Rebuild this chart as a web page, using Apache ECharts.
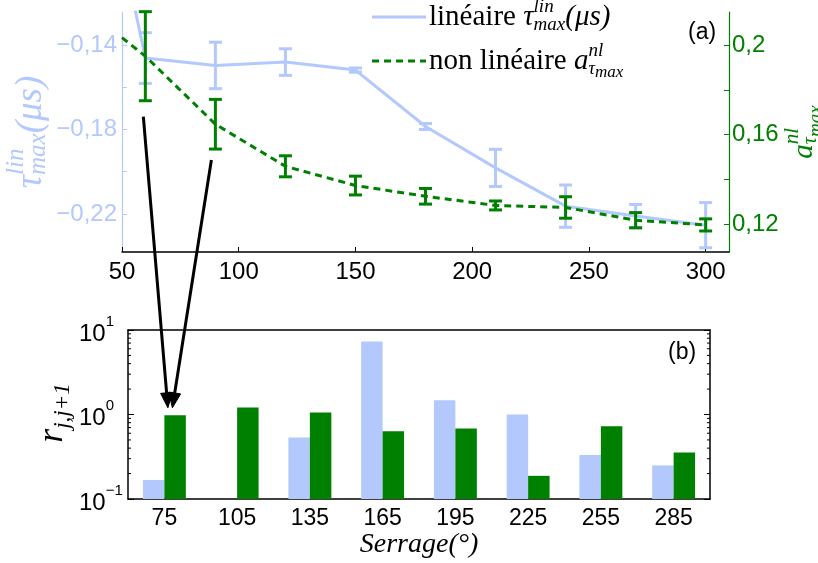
<!DOCTYPE html>
<html><head><meta charset="utf-8">
<script src="https://cdn.jsdelivr.net/npm/echarts@6/dist/echarts.min.js"></script>
<style>html,body{margin:0;padding:0;background:#fff}#c{width:818px;height:563px}</style>
</head><body><div id="c"></div>
<script>
// ---------- data ----------
const serrage = [60, 90, 120, 150, 180, 210, 240, 270, 300];
const linLead = [50, -0.094];           // segment entering the frame from the left
const linValues = [-0.1462, -0.1497, -0.1481, -0.1519, -0.1786, -0.1982, -0.2163, -0.2210, -0.2253];
const linErr = [0.0120, 0.0110, 0.0063, 0.0010, 0.0014, 0.0088, 0.0100, 0.0055, 0.0107];
const nlLead = [50, 0.2033];
const nlValues = [0.1950, 0.1646, 0.1458, 0.1372, 0.1324, 0.1283, 0.1274, 0.1217, 0.1196];
const nlErr = [0.0199, 0.0111, 0.0047, 0.0042, 0.0035, 0.0020, 0.0048, 0.0034, 0.0027];
const rCategories = ['75', '105', '135', '165', '195', '225', '255', '285'];
const rLin = [0.168, null, 0.535, 7.33, 1.47, 1.0, 0.331, 0.25];
const rNl = [0.98, 1.21, 1.056, 0.635, 0.684, 0.188, 0.727, 0.356];
const topXTicks = [50, 100, 150, 200, 250, 300];
const linTickLabels = [-0.22, -0.18, -0.14];
const linTicks = [-0.22, -0.20, -0.18, -0.16, -0.14];
const nlTickLabels = [0.12, 0.16, 0.2];
const nlTicks = [0.12, 0.14, 0.16, 0.18, 0.2];
const logMinor = [0.2, 0.3, 0.4, 0.5, 0.6, 0.7, 0.8, 0.9, 2, 3, 4, 5, 6, 7, 8, 9];

// ---------- styles ----------
const BLUE = '#b3c8fc';
const GREEN = '#008000';
const SANS = '"Liberation Sans", Arial, sans-serif';
const SERIF = '"Liberation Serif", "Times New Roman", serif';

const fmtComma = v => (v < 0 ? '\u2212' : '') + String(Math.abs(+v.toFixed(4))).replace('.', ',');

function errRender(color, capW, lw) {
  return function (params, api) {
    const x = api.value(0), v = api.value(1), e = api.value(2);
    const lo = api.coord([x, v - e]), hi = api.coord([x, v + e]);
    const hw = capW / 2;
    const style = { stroke: color, lineWidth: lw };
    return { type: 'group', children: [
      { type: 'line', shape: { x1: lo[0], y1: lo[1], x2: hi[0], y2: hi[1] }, style },
      { type: 'line', shape: { x1: lo[0] - hw, y1: lo[1], x2: lo[0] + hw, y2: lo[1] }, style },
      { type: 'line', shape: { x1: hi[0] - hw, y1: hi[1], x2: hi[0] + hw, y2: hi[1] }, style }
    ]};
  };
}

const chart = echarts.init(document.getElementById('c'), null, { renderer: 'canvas' });

const option = {
  animation: false,
  backgroundColor: '#fff',
  grid: [
    { left: 122, top: 12, width: 607, height: 240 },
    { left: 128, top: 330, width: 582, height: 169 }
  ],
  xAxis: [
    { type: 'value', gridIndex: 0, min: 50, max: 310,
      axisLine: { onZero: false, lineStyle: { color: '#000', width: 1.5 } },
      axisTick: { inside: true, length: 5, customValues: topXTicks, lineStyle: { color: '#000' } },
      axisLabel: { customValues: topXTicks, color: '#000', fontFamily: SANS, fontSize: 24, margin: 8 },
      splitLine: { show: false } },
    { type: 'category', gridIndex: 1, data: rCategories, position: 'bottom',
      axisLine: { onZero: false, lineStyle: { color: '#000', width: 1.5 } },
      axisTick: { inside: true, alignWithLabel: true, length: 5, lineStyle: { color: '#000' } },
      axisLabel: { color: '#000', fontFamily: SANS, fontSize: 23, margin: 8 },
      name: 'Serrage(°)', nameLocation: 'middle', nameGap: 30,
      nameTextStyle: { fontFamily: SERIF, fontStyle: 'italic', fontSize: 28, color: '#000' } },
    { type: 'category', gridIndex: 1, data: rCategories, position: 'top',
      axisLine: { onZero: false, lineStyle: { color: '#000', width: 1.5 } },
      axisTick: { inside: true, alignWithLabel: true, length: 5, lineStyle: { color: '#000' } },
      axisLabel: { show: false } }
  ],
  yAxis: [
    { type: 'value', gridIndex: 0, position: 'left', min: -0.2380, max: -0.1244,
      axisLine: { show: true, onZero: false, lineStyle: { color: BLUE, width: 1.2 } },
      axisTick: { show: true, inside: true, length: 5, customValues: linTicks, lineStyle: { color: BLUE } },
      axisLabel: { customValues: linTickLabels, formatter: fmtComma, color: BLUE, fontFamily: SANS, fontSize: 24, margin: 5 },
      splitLine: { show: false } },
    { type: 'value', gridIndex: 0, position: 'right', min: 0.1075, max: 0.21475,
      axisLine: { show: true, onZero: false, lineStyle: { color: GREEN, width: 1.2 } },
      axisTick: { show: true, inside: true, length: 5, customValues: nlTicks, lineStyle: { color: GREEN } },
      axisLabel: { customValues: nlTickLabels, formatter: fmtComma, color: GREEN, fontFamily: SANS, fontSize: 24, margin: 3 },
      splitLine: { show: false } },
    { type: 'log', logBase: 10, gridIndex: 1, position: 'left', min: 0.1, max: 10, startValue: 0.1,
      axisLine: { show: true, onZero: false, lineStyle: { color: '#000', width: 1.5 } },
      axisTick: { show: true, inside: true, length: 6, lineStyle: { color: '#000' } },
      axisLabel: {
        margin: 49, align: 'left',
        formatter: v => { const e = Math.round(Math.log10(v)); return '{b|10}{s|' + (e < 0 ? '\u2212' : '') + Math.abs(e) + '}'; },
        rich: {
          b: { fontFamily: SANS, fontSize: 24, color: '#000', lineHeight: 32, verticalAlign: 'bottom' },
          s: { fontFamily: SANS, fontSize: 15, color: '#000', verticalAlign: 'top' }
        } },
      splitLine: { show: false } },
    { type: 'log', logBase: 10, gridIndex: 1, position: 'right', min: 0.1, max: 10,
      axisLine: { show: true, onZero: false, lineStyle: { color: '#000', width: 1.5 } },
      axisTick: { show: true, inside: true, length: 6, lineStyle: { color: '#000' } },
      axisLabel: { show: false }, splitLine: { show: false } }
  ],
  series: [
    { id: 'lin', type: 'line', xAxisIndex: 0, yAxisIndex: 0, showSymbol: false, symbol: 'none', clip: true,
      data: [linLead].concat(serrage.map((s, i) => [s, linValues[i]])),
      lineStyle: { color: BLUE, width: 3 }, itemStyle: { color: BLUE }, z: 2 },
    { id: 'linErr', type: 'custom', xAxisIndex: 0, yAxisIndex: 0, encode: { x: 0, y: 1 },
      data: serrage.map((s, i) => [s, linValues[i], linErr[i]]),
      renderItem: errRender(BLUE, 13, 3), z: 3 },
    { id: 'nl', type: 'line', xAxisIndex: 0, yAxisIndex: 1, showSymbol: false, symbol: 'none', clip: true,
      data: [nlLead].concat(serrage.map((s, i) => [s, nlValues[i]])),
      lineStyle: { color: GREEN, width: 3, type: [7, 5] }, itemStyle: { color: GREEN }, z: 4 },
    { id: 'nlErr', type: 'custom', xAxisIndex: 0, yAxisIndex: 1, encode: { x: 0, y: 1 },
      data: serrage.map((s, i) => [s, nlValues[i], nlErr[i]]),
      renderItem: errRender(GREEN, 13, 3), z: 5 },
    { id: 'rLin', type: 'bar', xAxisIndex: 1, yAxisIndex: 2, data: rLin, barWidth: '29.5%', barGap: '0%',
      itemStyle: { color: BLUE } },
    { id: 'rNl', type: 'bar', xAxisIndex: 1, yAxisIndex: 2, data: rNl, barWidth: '29.5%', barGap: '0%',
      itemStyle: { color: GREEN } },
    { id: 'minor', type: 'custom', xAxisIndex: 1, yAxisIndex: 2, encode: { x: 0, y: 1 }, silent: true,
      data: logMinor.map(v => [0, v]),
      renderItem: (params, api) => {
        const y = api.coord([0, api.value(1)])[1];
        const cs = params.coordSys;
        const st = { stroke: '#000', lineWidth: 1 };
        return { type: 'group', children: [
          { type: 'line', shape: { x1: cs.x, y1: y, x2: cs.x + 3, y2: y }, style: st },
          { type: 'line', shape: { x1: cs.x + cs.width - 3, y1: y, x2: cs.x + cs.width, y2: y }, style: st }
        ]};
      }, z: 6 }
  ]
};

chart.setOption(option);

// ---------- math-like text built from graphic texts ----------
const mctx = document.createElement('canvas').getContext('2d');
function fontOf(p) { return (p.italic ? 'italic ' : '') + p.size + 'px ' + SERIF; }
function mathChildren(parts, color, center) {
  let cursor = 0, prevStart = 0, maxEnd = 0;
  const items = [];
  parts.forEach(p => {
    const font = fontOf(p);
    mctx.font = font;
    const w = mctx.measureText(p.t).width;
    let sx = p.at === 'stack' ? prevStart : (p.at === 'after' ? maxEnd : cursor);
    items.push({ x: sx, y: p.dy || 0, t: p.t, font });
    prevStart = sx;
    cursor = sx + w;
    maxEnd = Math.max(maxEnd, sx + w);
  });
  const off = center ? -maxEnd / 2 : 0;
  return items.map(it => ({ type: 'text', x: it.x + off, y: it.y,
    style: { text: it.t, font: it.font, fill: color, align: 'left', verticalAlign: 'middle' } }));
}

const legend1 = [
  { t: 'linéaire ', size: 29 },
  { t: 'τ', size: 29, italic: true },
  { t: 'lin', size: 19, italic: true, dy: -10 },
  { t: 'max', size: 19, italic: true, dy: 8, at: 'stack' },
  { t: '(μs)', size: 29, italic: true, at: 'after' }
];
const legend2 = [
  { t: 'non linéaire ', size: 29 },
  { t: 'a', size: 29, italic: true },
  { t: 'nl', size: 19, italic: true, dy: -10 },
  { t: 'τ', size: 18, italic: true, dy: 8, at: 'stack' },
  { t: 'max', size: 17, italic: true, dy: 12 }
];
const leftName = [
  { t: 'τ', size: 37, italic: true },
  { t: 'lin', size: 25, italic: true, dy: -15 },
  { t: 'max', size: 25, italic: true, dy: 7, at: 'stack' },
  { t: '(μs)', size: 37, italic: true, at: 'after' }
];
const rightName = [
  { t: 'a', size: 29, italic: true },
  { t: 'nl', size: 21, italic: true, dy: -12 },
  { t: 'τ', size: 20, italic: true, dy: 7, at: 'stack' },
  { t: 'max', size: 19, italic: true, dy: 12 }
];
const bottomName = [
  { t: 'r', size: 36, italic: true },
  { t: 'j,j+1', size: 23, italic: true, dy: 10 }
];

// arrows from the top panel to the first bar pair
const a1s = chart.convertToPixel({ seriesId: 'nlErr' }, [serrage[0], nlValues[0] - nlErr[0]]);
const a2s = chart.convertToPixel({ seriesId: 'nlErr' }, [serrage[1], nlValues[1] - nlErr[1]]);
const tip = chart.convertToPixel({ seriesId: 'rNl' }, [0, 1.2]);
function arrow(sx, sy, tx, ty) {
  const dx = tx - sx, dy = ty - sy, L = Math.hypot(dx, dy);
  const ux = dx / L, uy = dy / L, nx = -uy, ny = ux;
  const hl = 15, hw = 6;
  const bx = tx - ux * hl, by = ty - uy * hl;
  return [
    { type: 'line', shape: { x1: sx, y1: sy, x2: bx, y2: by }, style: { stroke: '#000', lineWidth: 3 }, z: 100 },
    { type: 'polygon', shape: { points: [[tx, ty], [bx + nx * hw, by + ny * hw], [bx - nx * hw, by - ny * hw]] },
      style: { fill: '#000', stroke: '#000', lineWidth: 1 }, z: 100 }
  ];
}

const graphic = [
  { type: 'line', shape: { x1: 372, y1: 17, x2: 426, y2: 17 }, style: { stroke: BLUE, lineWidth: 3 } },
  { type: 'line', shape: { x1: 372, y1: 61, x2: 426, y2: 61 }, style: { stroke: GREEN, lineWidth: 3, lineDash: [7, 5] } },
  { type: 'group', x: 429, y: 17, children: mathChildren(legend1, '#000', false) },
  { type: 'group', x: 429, y: 61, children: mathChildren(legend2, '#000', false) },
  { type: 'group', x: 31, y: 132, rotation: Math.PI / 2, children: mathChildren(leftName, BLUE, true) },
  { type: 'group', x: 804, y: 132, rotation: Math.PI / 2, children: mathChildren(rightName, GREEN, true) },
  { type: 'group', x: 53, y: 413, rotation: Math.PI / 2, children: mathChildren(bottomName, '#000', true) },
  { type: 'text', x: 688, y: 33, style: { text: '(a)', font: '23px ' + SANS, fill: '#000', verticalAlign: 'middle' } },
  { type: 'text', x: 668, y: 353, style: { text: '(b)', font: '23px ' + SANS, fill: '#000', verticalAlign: 'middle' } }
].concat(
  arrow(a1s[0] - 2, a1s[1] + 16, tip[0] + 3.5, tip[1]),
  arrow(a2s[0] - 4, a2s[1] + 11, tip[0] + 8, tip[1])
);

chart.setOption({ graphic: graphic });
</script>
</body></html>
